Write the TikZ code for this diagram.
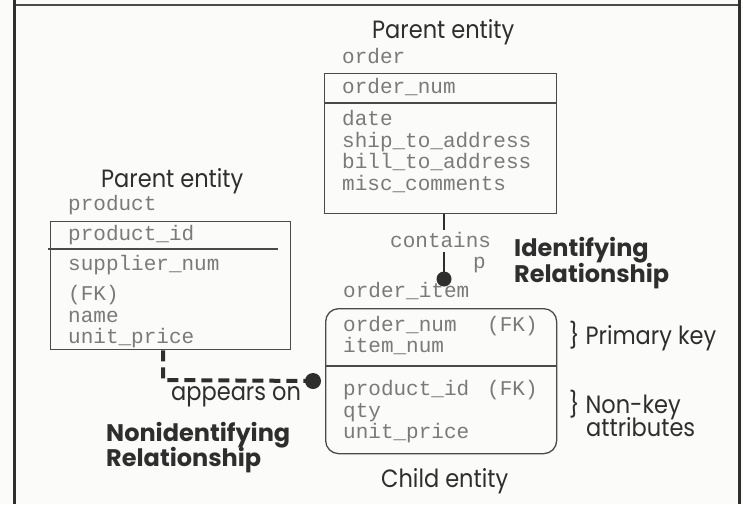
\documentclass[tikz,border=0pt]{standalone}
\usepackage{fontspec}
\setmainfont{Poppins}
\newfontfamily\capfont[FakeStretch=0.9]{Poppins}
\newfontfamily\attrfont{Liberation Mono}
\definecolor{ink}{HTML}{2E2E2E}
\definecolor{attr}{HTML}{7A7A7A}
\definecolor{rule}{HTML}{4A4A4A}
\definecolor{paper}{HTML}{FBFBF9}
\tikzset{
  caption/.style={font=\capfont\fontsize{25}{27}\selectfont, text=ink, inner sep=0pt, anchor=base west},
  relname/.style={font=\fontsize{24}{26}\selectfont\bfseries, text=ink, inner sep=0pt, anchor=base west},
  attrtext/.style={font=\attrfont\fontsize{21}{22}\selectfont, text=attr, inner sep=0pt, anchor=base west},
  entitybox/.style={draw=rule, line width=1.3pt, inner sep=0pt, anchor=north west},
  divider/.style={draw=rule, line width=1.3pt},
  reldot/.style={circle, fill=ink, inner sep=0pt, minimum size=#1},
  idline/.style={draw=ink, line width=2.4pt},
  nonidline/.style={draw=ink, line width=4pt, dash pattern=on 11pt off 6pt, line join=miter},
  frameline/.style={draw=ink, line width=3pt}
}
\begin{document}
\begin{tikzpicture}[x=1pt, y=-1pt]
  \useasboundingbox (0,0) rectangle (743,504);
  \fill[paper] (0,0) rectangle (743,504);

  % outer frame
  \draw[rule, line width=1.4pt] (14,5) -- (739,5);
  \draw[frameline] (14.5,0) -- (14.5,504);
  \draw[frameline] (739,0) -- (739,504);

  % ---------- parent entity: order ----------
  \node[caption] (pOrderCap) at (372,38) {Parent entity};
  \node[attrtext] (orderName) at (342,63) {order};
  \node[entitybox, minimum width=232pt, minimum height=140pt] (order) at (324,73) {};
  \draw[divider] (324,103) -- (556,103);
  \node[attrtext] at (342,93) {order\_num};
  \node[attrtext] at (342,125) {date};
  \node[attrtext] at (342,147) {ship\_to\_address};
  \node[attrtext] at (342,168) {bill\_to\_address};
  \node[attrtext] at (342,190) {misc\_comments};

  % ---------- parent entity: product ----------
  \node[caption] (pProdCap) at (101,187) {Parent entity};
  \node[attrtext] (prodName) at (68,210) {product};
  \node[entitybox, minimum width=240pt, minimum height=128pt] (product) at (50,221) {};
  \draw[divider] (48,249) -- (278,249);
  \node[attrtext] at (68,240) {product\_id};
  \node[attrtext] at (68,270) {supplier\_num};
  \node[attrtext] at (68,300) {(FK)};
  \node[attrtext] at (68,322) {name};
  \node[attrtext] at (68,343) {unit\_price};

  % ---------- child entity: order_item ----------
  \node[attrtext] (itemName) at (343,297) {order\_item};
  \node[entitybox, rounded corners=13pt, minimum width=231pt, minimum height=145pt] (item) at (325,308) {};
  \draw[divider] (325,366) -- (556,366);
  \node[attrtext] at (343,331) {order\_num};
  \node[attrtext] at (487,331) {(FK)};
  \node[attrtext] at (343,352) {item\_num};
  \node[attrtext] at (343,395) {product\_id};
  \node[attrtext] at (487,395) {(FK)};
  \node[attrtext] at (343,417) {qty};
  \node[attrtext] at (343,438) {unit\_price};
  \node[caption] (childCap) at (381,487) {Child entity};

  \node[caption] (pkNote) at (569,344) {\} Primary key};
  \node[caption] (nkNote) at (569,413) {\} Non-key};
  \node[caption] (nkNote2) at (586,436) {attributes};

  % ---------- identifying relationship ----------
  \node[attrtext] (contains) at (390,247) {contains};
  \node[attrtext] (pMark) at (473,268) {p};
  \node[reldot=15pt] (idDot) at (444,279) {};
  \draw[idline] (order.south -| idDot) -- (444,230);
  \draw[idline] (444,252) -- (idDot.center);
  \node[relname] (idLab1) at (514,256) {Identifying};
  \node[relname] (idLab2) at (514,282) {Relationship};

  % ---------- non-identifying relationship ----------
  \node[reldot=16pt] (nonDot) at (313,381) {};
  \coordinate (bend) at (163,380);
  \draw[nonidline] (product.south -| bend) -- (bend) -- (nonDot.center);
  \node[caption] (appears) at (171,400) {appears on};
  \node[relname] (nonLab1) at (106,441) {Nonidentifying};
  \node[relname] (nonLab2) at (106,466) {Relationship};
\end{tikzpicture}
\end{document}
